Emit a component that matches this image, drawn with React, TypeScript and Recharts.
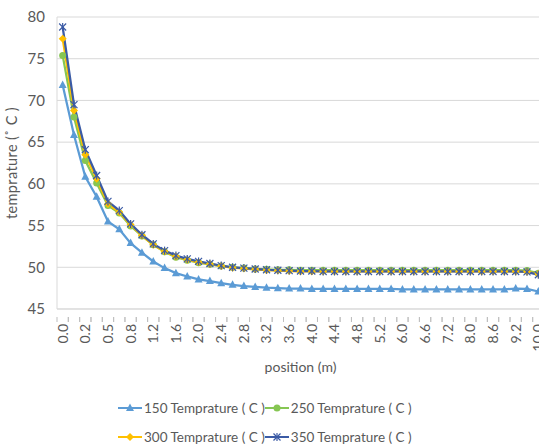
import React from "react";
import { CartesianGrid, Legend, Line, LineChart, XAxis, YAxis } from "recharts";

const positions = [
  "0.0", "0.1", "0.2", "0.4", "0.5", "0.6", "0.8", "1.0", "1.2", "1.4", "1.6", "1.8",
  "2.0", "2.2", "2.4", "2.6", "2.8", "3.0", "3.2", "3.4", "3.6", "3.8", "4.0", "4.2",
  "4.4", "4.6", "4.8", "5.0", "5.2", "5.6", "6.0", "6.3", "6.6", "6.9", "7.2", "7.6",
  "8.0", "8.3", "8.6", "8.9", "9.2", "9.6", "10.0",
];

const temp150 = [
  71.85, 65.85, 60.85, 58.45, 55.5, 54.55, 52.9, 51.75, 50.7, 49.9, 49.3, 48.9,
  48.55, 48.35, 48.1, 47.9, 47.75, 47.65, 47.55, 47.5, 47.45, 47.45, 47.4, 47.4,
  47.4, 47.4, 47.4, 47.4, 47.4, 47.4, 47.35, 47.35, 47.35, 47.35, 47.35, 47.35,
  47.35, 47.35, 47.35, 47.35, 47.45, 47.4, 47.1,
];
const temp250 = [
  75.4, 68.0, 62.8, 60.1, 57.4, 56.5, 54.95, 53.75, 52.7, 51.85, 51.2, 50.85,
  50.55, 50.35, 50.15, 50.0, 49.9, 49.8, 49.75, 49.7, 49.7, 49.65, 49.65, 49.65,
  49.65, 49.65, 49.65, 49.65, 49.65, 49.65, 49.65, 49.65, 49.65, 49.65, 49.65, 49.65,
  49.65, 49.65, 49.65, 49.65, 49.65, 49.6, 49.3,
];
const temp300 = [
  77.4, 68.8, 63.5, 60.6, 57.6, 56.6, 55.1, 53.8, 52.7, 51.9, 51.3, 50.9,
  50.6, 50.4, 50.15, 49.95, 49.85, 49.75, 49.65, 49.6, 49.55, 49.5, 49.5, 49.5,
  49.5, 49.5, 49.5, 49.5, 49.5, 49.5, 49.5, 49.5, 49.5, 49.5, 49.5, 49.5,
  49.5, 49.5, 49.5, 49.5, 49.5, 49.45, 49.2,
];
const temp350 = [
  78.8, 69.5, 64.1, 61.0, 57.9, 56.8, 55.2, 53.9, 52.8, 52.0, 51.4, 51.0,
  50.7, 50.45, 50.2, 50.0, 49.9, 49.8, 49.7, 49.65, 49.6, 49.55, 49.55, 49.5,
  49.5, 49.5, 49.5, 49.5, 49.5, 49.5, 49.5, 49.5, 49.5, 49.5, 49.5, 49.5,
  49.5, 49.5, 49.5, 49.5, 49.5, 49.45, 49.1,
];

const yTicks = [45, 50, 55, 60, 65, 70, 75, 80];

type Shape = "triangle" | "circle" | "diamond" | "star";
const SERIES: { key: string; name: string; color: string; shape: Shape; values: number[] }[] = [
  { key: "t150", name: "150 Temprature ( C )", color: "#5B9BD5", shape: "triangle", values: temp150 },
  { key: "t250", name: "250 Temprature ( C )", color: "#86C653", shape: "circle", values: temp250 },
  { key: "t300", name: "300 Temprature ( C )", color: "#FFC000", shape: "diamond", values: temp300 },
  { key: "t350", name: "350 Temprature ( C )", color: "#3B5BA5", shape: "star", values: temp350 },
];

const data = positions.map((p, i) => {
  const row: Record<string, string | number> = { pos: p };
  SERIES.forEach((s) => (row[s.key] = s.values[i]));
  return row;
});

const FONT = "Lato, 'Open Sans', sans-serif";
const TEXT = "#595959";
const BAND = 11.32;

function Marker({ cx, cy, shape, color }: { cx: number; cy: number; shape: Shape; color: string }) {
  if (shape === "triangle")
    return <polygon points={`${cx},${cy - 4.5} ${cx - 4},${cy + 3} ${cx + 4},${cy + 3}`} fill={color} />;
  if (shape === "circle") return <circle cx={cx} cy={cy} r={3.5} fill={color} />;
  if (shape === "diamond")
    return <polygon points={`${cx},${cy - 4} ${cx + 4},${cy} ${cx},${cy + 4} ${cx - 4},${cy}`} fill={color} />;
  return (
    <g stroke={color} strokeWidth={1.2}>
      <line x1={cx - 3.5} y1={cy - 3.5} x2={cx + 3.5} y2={cy + 3.5} />
      <line x1={cx - 3.5} y1={cy + 3.5} x2={cx + 3.5} y2={cy - 3.5} />
      <line x1={cx} y1={cy - 4} x2={cx} y2={cy + 4} />
    </g>
  );
}

function XTick(props: any) {
  const { x, y, payload } = props;
  const show = payload.index % 2 === 0;
  return (
    <g>
      <line x1={x - BAND / 2} y1={y} x2={x - BAND / 2} y2={y + 5} stroke="#BFBFBF" />
      <line x1={x + BAND / 2} y1={y} x2={x + BAND / 2} y2={y + 5} stroke="#BFBFBF" />
      {show && (
        <text
          x={0}
          y={0}
          dy="0.35em"
          textAnchor="end"
          transform={`translate(${x},${y + 7}) rotate(-90)`}
          fill={TEXT}
          fontSize={14}
          fontFamily={FONT}
        >
          {payload.value}
        </text>
      )}
    </g>
  );
}

function LegendBox() {
  return (
    <div style={{ paddingLeft: 118, paddingTop: 10, fontFamily: FONT, fontSize: 13.5, color: TEXT }}>
      {[0, 2].map((r) => (
        <div key={r} style={{ display: "flex", height: 29, alignItems: "center" }}>
          {SERIES.slice(r, r + 2).map((s) => (
            <span key={s.key} style={{ display: "inline-flex", alignItems: "center" }}>
              <svg width={24} height={10} style={{ marginRight: 2 }}>
                <line x1={0} y1={5} x2={24} y2={5} stroke={s.color} strokeWidth={2} />
                <Marker cx={12} cy={5} shape={s.shape} color={s.color} />
              </svg>
              {s.name}
            </span>
          ))}
        </div>
      ))}
    </div>
  );
}

export default function App() {
  return (
    <div style={{ position: "absolute", left: 0, top: 0, width: 539, height: 445, overflow: "hidden", background: "#fff" }}>
      <LineChart width={546} height={445} data={data} margin={{ top: 17, right: 2, bottom: 0, left: 0 }}>
        <CartesianGrid vertical={false} stroke="#D9D9D9" />
        <XAxis
          dataKey="pos"
          interval={0}
          height={74}
          padding={{ left: BAND / 2, right: BAND / 2 }}
          stroke="#D9D9D9"
          tickLine={false}
          tick={<XTick />}
          label={{ value: "position (m)", position: "insideBottom", offset: 11, fill: TEXT, fontSize: 14, fontFamily: FONT }}
        />
        <YAxis
          domain={[45, 80]}
          ticks={yTicks}
          width={57}
          stroke="#D9D9D9"
          tickLine={false}
          tickSize={0}
          tickMargin={12}
          tick={{ fill: TEXT, fontSize: 15, fontFamily: FONT }}
          label={{
            content: ({ viewBox }: any) => (
              <text
                x={0}
                y={0}
                textAnchor="middle"
                dy="0.35em"
                transform={`translate(12,${viewBox.y + viewBox.height / 2}) rotate(-90)`}
                fill={TEXT}
                fontSize={14.5}
                fontFamily={FONT}
                letterSpacing={0.4}
              >
                temprature (˚ C )
              </text>
            ),
          }}
        />
        <Legend verticalAlign="bottom" height={62} wrapperStyle={{ left: 0, width: 539 }} content={<LegendBox />} />
        {SERIES.map((s) => (
          <Line
            key={s.key}
            dataKey={s.key}
            name={s.name}
            stroke={s.color}
            strokeWidth={2.25}
            isAnimationActive={false}
            dot={(p: any) => <Marker key={`${s.key}-${p.index}`} cx={p.cx} cy={p.cy} shape={s.shape} color={s.color} />}
            activeDot={false}
          />
        ))}
      </LineChart>
    </div>
  );
}
